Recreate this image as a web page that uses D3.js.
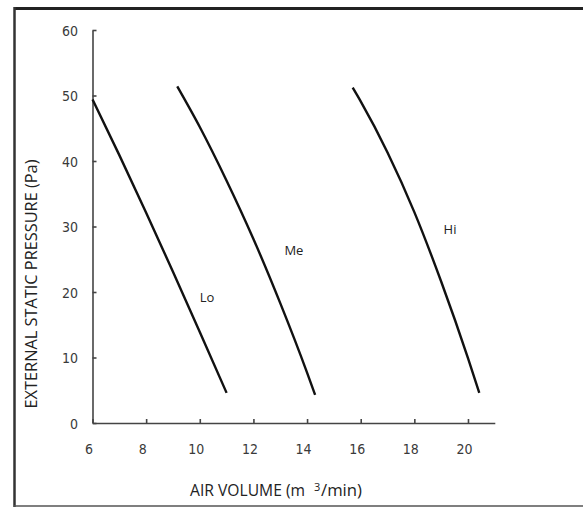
<!DOCTYPE html>
<html>
<head>
  <title>Fan curves</title>
  <meta charset="utf-8" />
  <script src="https://cdn.jsdelivr.net/npm/d3@7"></script>
  <style>
  body { margin: 0; background: #fff; }
  </style>
</head>
<body>
  <script>
  // readings taken off the reference curves: [air volume, pressure]
  var loPoints = [[6, 49.4], [7, 40.9], [8, 32.1], [9, 23.1], [10, 13.9], [11, 4.6]];
  var mePoints = [[9.16, 51.4], [10, 45.2], [11, 37.0], [12, 28.1], [13, 18.3], [14, 7.7], [14.3, 4.3]];
  var hiPoints = [[15.7, 51.2], [16, 49.1], [17, 41.3], [18, 32.2], [19, 21.6], [20, 9.9], [20.42, 4.6]];
  var seriesNames = ["Lo", "Me", "Hi"];
  var labelPos = [[10.27, 18.4], [13.51, 25.6], [19.33, 28.8]];
  var xTicks = [6, 8, 10, 12, 14, 16, 18, 20];
  var yTicks = [0, 10, 20, 30, 40, 50, 60];

  var width = 583, height = 508;

  var svg = d3.select("body").append("svg")
    .attr("width", width)
    .attr("height", height);

  // frame, open on the right
  svg.append("line").attr("x1", 14).attr("y1", 8.5).attr("x2", width).attr("y2", 8.5)
    .style("stroke", "#222").style("stroke-width", 3);
  svg.append("line").attr("x1", 14.5).attr("y1", 7).attr("x2", 14.5).attr("y2", 507)
    .style("stroke", "#333").style("stroke-width", 2.5);
  svg.append("line").attr("x1", 14).attr("y1", 506).attr("x2", width).attr("y2", 506)
    .style("stroke", "#555").style("stroke-width", 1.5);

  var x = d3.scaleLinear().domain([6, 21]).range([92.5, 494.8]);
  var y = d3.scaleLinear().domain([0, 60]).range([423, 30]);

  var xAxis = svg.append("g")
    .attr("transform", "translate(0," + y(0) + ")")
    .call(d3.axisBottom(x).tickValues(xTicks).tickSizeInner(-4).tickSizeOuter(0));
  xAxis.selectAll("text")
    .attr("y", 30.5).attr("dy", null).attr("x", -4);

  var yAxis = svg.append("g")
    .attr("transform", "translate(" + x(6) + ",0)")
    .call(d3.axisLeft(y).tickValues(yTicks).tickSizeInner(-4).tickSizeOuter(0));
  yAxis.selectAll("text")
    .attr("x", -14.5).attr("dy", "0.36em");

  svg.selectAll(".domain, .tick line")
    .style("stroke", "#444").style("stroke-width", 1.6);
  svg.selectAll(".tick text")
    .style("font-family", "'DejaVu Sans Condensed', 'DejaVu Sans', sans-serif")
    .style("font-stretch", "condensed")
    .style("font-size", "14px")
    .style("fill", "#3a3a3a");

  var line = d3.line()
    .x(function(d) { return x(d[0]); })
    .y(function(d) { return y(d[1]); })
    .curve(d3.curveMonotoneX);

  svg.selectAll(".curve")
    .data([loPoints, mePoints, hiPoints])
    .enter().append("path")
    .attr("class", "curve")
    .attr("d", line)
    .style("fill", "none")
    .style("stroke", "#111")
    .style("stroke-width", 2.4);

  svg.selectAll(".name")
    .data(seriesNames)
    .enter().append("text")
    .attr("class", "name")
    .attr("x", function(d, i) { return x(labelPos[i][0]); })
    .attr("y", function(d, i) { return y(labelPos[i][1]); })
    .attr("text-anchor", "middle")
    .style("font-family", "'Open Sans', sans-serif")
    .style("font-size", "13px")
    .style("fill", "#222")
    .text(function(d) { return d; });

  // axis titles
  var xt = svg.append("text")
    .attr("x", 190).attr("y", 496)
    .style("font-family", "'Open Sans', sans-serif")
    .style("font-size", "16px")
    .style("fill", "#222");
  xt.append("tspan").attr("textLength", 115).attr("lengthAdjust", "spacingAndGlyphs").text("AIR VOLUME (m");
  xt.append("tspan").attr("x", 314).attr("dy", -5).style("font-size", "11px").text("3");
  xt.append("tspan").attr("x", 321).attr("dy", 5).attr("textLength", 41).attr("lengthAdjust", "spacingAndGlyphs").text("/min)");

  svg.append("text")
    .attr("transform", "translate(37,284) rotate(-90)")
    .attr("text-anchor", "middle")
    .attr("textLength", 249)
    .attr("lengthAdjust", "spacingAndGlyphs")
    .style("font-family", "'Open Sans', sans-serif")
    .style("font-size", "16px")
    .style("fill", "#222")
    .text("EXTERNAL STATIC PRESSURE (Pa)");
  </script>
 </body>
</html>
